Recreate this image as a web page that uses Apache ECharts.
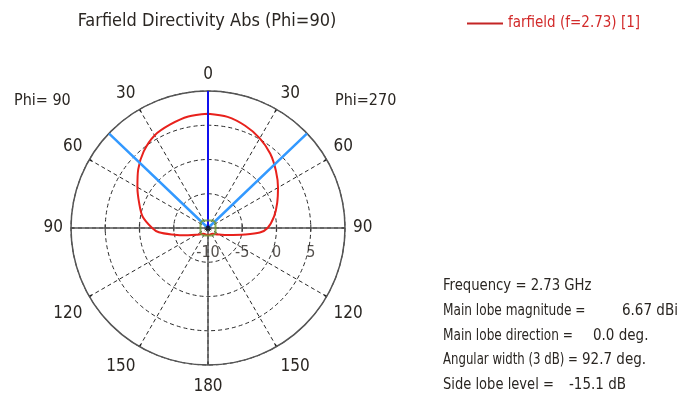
<!DOCTYPE html>
<html><head><meta charset="utf-8">
<script src="https://cdn.jsdelivr.net/npm/echarts@6/dist/echarts.min.js"></script>
<style>html,body{margin:0;padding:0;background:#fff}#c{width:681px;height:410px}</style>
</head><body><div id="c"></div>
<script>
// ---- data ----
const chartTitle = 'Farfield Directivity Abs (Phi=90)';
const seriesName = 'farfield (f=2.73) [1]';
const thetaDeg = [0, 10, 20, 30, 40, 50, 60, 70, 80, 90, 95, 100, 110, 120, 130, 140, 150, 160, 170, 180];
// right half (Phi=270), dBi
const phi270dB = [6.67, 6.47, 5.88, 5.12, 4.15, 2.95, 1.80, 0.75, -0.20, -1.30, -2.40, -4.50, -7.00, -8.10, -8.60, -8.90, -9.00, -9.00, -9.00, -9.00];
// left half (Phi=90), dBi
const phi90dB = [6.67, 6.52, 6.08, 5.60, 4.60, 3.30, 1.90, 0.70, -0.30, -1.85, -2.80, -4.60, -6.90, -8.00, -8.60, -8.90, -9.00, -9.00, -9.00, -9.00];
const radiusTicks = [-10, -5, 0, 5, 10];
const radiusTickLabels = ['-10', '-5', '0', '5'];
const angleStep = 30;
const mainLobeDirection = 0.0;
const angularWidth = 92.7;
const sideLabels = ['Phi= 90', 'Phi=270'];
const infoLabels = ['Frequency = 2.73 GHz', 'Main lobe magnitude =', 'Main lobe direction =', 'Angular width (3 dB) =', 'Side lobe level ='];
const infoValues = ['', '6.67 dBi', '0.0 deg.', '92.7 deg.', '-15.1 dB'];

// ---- helpers ----
const rMin = radiusTicks[0], rMax = radiusTicks[radiusTicks.length - 1];
const rightAng = t => (t + 270) % 360;          // theta clockwise from top
const leftAng = t => (270 - t + 360) % 360;     // theta counter-clockwise from top

const pattern = [];
thetaDeg.forEach((t, i) => pattern.push([phi270dB[i], rightAng(t)]));
for (let i = thetaDeg.length - 1; i >= 0; i--) pattern.push([phi90dB[i], leftAng(thetaDeg[i])]);

const half = angularWidth / 2;
const FONT = "'Liberation Sans Narrow','DejaVu Sans Condensed','Liberation Sans',sans-serif";
const TXT = '#2a2622';

const tickMarks = [];
radiusTicks.slice(1, -1).forEach(r => { tickMarks.push([r, 0]); tickMarks.push([r, 180]); });
const tickLabelPts = radiusTickLabels.map((s, i) => ({value: [radiusTicks[i], 0], name: s}));

const chart = echarts.init(document.getElementById('c'), null, {renderer: 'canvas'});
const info = [];
const rowTop = i => 279 + i * 24.6;
const rowScale = [0.98, 0.9, 0.9, 0.87, 0.97];
infoLabels.forEach((s, i) => {
  info.push({type: 'text', x: 443, y: rowTop(i), scaleX: rowScale[i],
             style: {text: s, font: '15px ' + FONT, fill: TXT}});
});
const valX = [0, 622, 593, 582, 569];
infoValues.forEach((s, i) => {
  if (s) info.push({type: 'text', x: valX[i], y: rowTop(i), style: {text: s, font: '15px ' + FONT, fill: TXT}});
});

chart.setOption({
  animation: false,
  backgroundColor: '#fff',
  polar: {center: [208, 228], radius: 137},
  angleAxis: {
    type: 'value', min: 0, max: 360, interval: angleStep, startAngle: 0, clockwise: true,
    axisLine: {lineStyle: {color: '#555', width: 1.5}},
    axisTick: {show: true, inside: true, length: 3, lineStyle: {color: '#222', width: 1.5}},
    axisLabel: {
      margin: 8, padding: [5, 0, 0, 0], fontSize: 17, fontFamily: FONT, color: TXT,
      formatter: v => { if (v >= 360) return ''; const t = (v + 90) % 360; return String(t <= 180 ? t : 360 - t); }
    },
    splitLine: {show: true, lineStyle: {color: '#2a2a2a', width: 1, type: [4, 3]}}
  },
  radiusAxis: {
    type: 'value', min: rMin, max: rMax, interval: 5,
    axisLine: {show: false},
    axisTick: {show: false},
    axisLabel: {show: false},
    splitLine: {show: true, lineStyle: {color: '#2a2a2a', width: 1, type: [4, 3]}}
  },
  legend: {
    data: [seriesName], left: 462, top: 11, icon: 'rect', itemWidth: 36, itemHeight: 2,
    textStyle: {color: '#d22a2a', fontSize: 15, fontFamily: FONT}
  },
  graphic: [
    {type: 'text', x: 207, y: 12, style: {text: chartTitle, font: '18px ' + FONT, fill: TXT, align: 'center', verticalAlign: 'top'}},
    {type: 'text', left: 14, top: 93, style: {text: sideLabels[0], font: '16px ' + FONT, fill: TXT}},
    {type: 'text', left: 335, top: 93, style: {text: sideLabels[1], font: '16px ' + FONT, fill: TXT}},
    ...info
  ],
  series: [
    {type: 'line', coordinateSystem: 'polar', silent: true, symbol: 'none',
     lineStyle: {color: '#555', width: 1.5},
     data: [[rMax, 0], [rMin, 0], [rMax, 180]]},
    {type: 'line', coordinateSystem: 'polar', silent: true, symbol: 'none',
     lineStyle: {color: '#555', width: 1.5},
     data: [[rMin, 90], [rMax, 90]]},
    {type: 'scatter', coordinateSystem: 'polar', silent: true, symbol: 'rect', symbolSize: [1.3, 7],
     itemStyle: {color: '#333'}, data: tickMarks, z: 2},
    {type: 'scatter', coordinateSystem: 'polar', silent: true, symbolSize: 0, data: tickLabelPts, z: 8,
     label: {show: true, position: 'bottom', distance: 17, formatter: p => p.name,
             fontSize: 16, fontFamily: FONT, color: TXT}},
    {name: seriesName, type: 'line', coordinateSystem: 'polar', symbol: 'none', smooth: 0.3,
     itemStyle: {color: '#c42525'},
     lineStyle: {color: '#e8211c', width: 2}, data: pattern, z: 3},
    {type: 'line', coordinateSystem: 'polar', silent: true, symbol: 'none',
     lineStyle: {color: '#3399ff', width: 2.5},
     data: [[rMax, leftAng(mainLobeDirection + half)], [rMin, 270], [rMax, rightAng(mainLobeDirection + half)]], z: 4},
    {type: 'line', coordinateSystem: 'polar', silent: true, symbol: 'none',
     lineStyle: {color: '#1010ee', width: 2},
     data: [[rMin, rightAng(mainLobeDirection)], [rMax, rightAng(mainLobeDirection)]], z: 5},
    {type: 'scatter', coordinateSystem: 'polar', silent: true, symbol: 'roundRect', symbolSize: 15,
     itemStyle: {color: 'rgba(0,0,0,0)', borderColor: '#6f9a35', borderWidth: 2},
     data: [[rMin, 270]], z: 6},
    {type: 'scatter', coordinateSystem: 'polar', silent: true, symbol: 'circle', symbolSize: 5,
     itemStyle: {color: '#111'}, data: [[rMin, 270]], z: 7}
  ]
});
</script></body></html>
